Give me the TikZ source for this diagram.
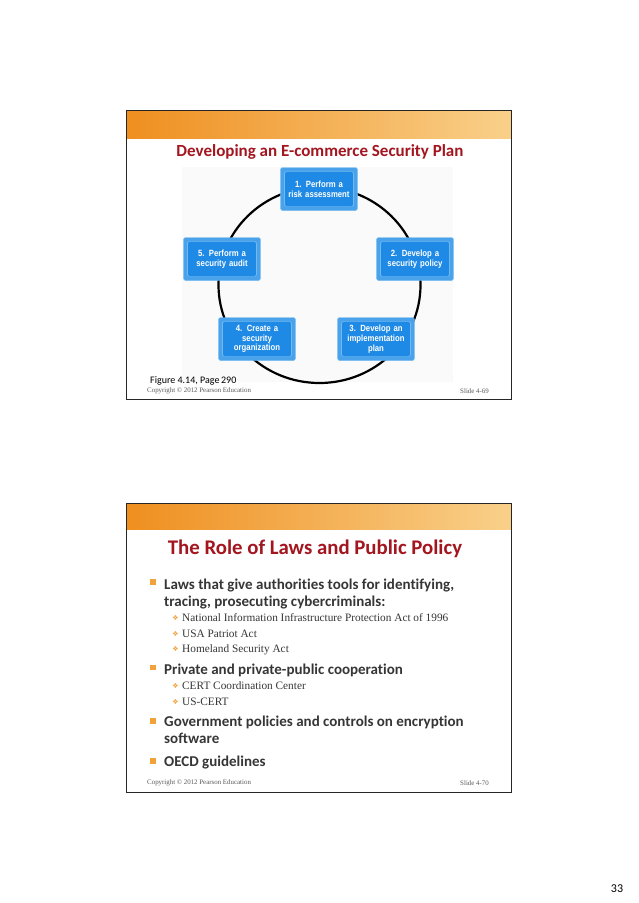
\documentclass[tikz,border=0pt]{standalone}
\usepackage{fontspec}
\setmainfont{Carlito}[Ligatures={NoCommon}]
\newfontfamily\boxfont{Liberation Sans}[FakeStretch=0.86]
\newfontfamily\notefont{Liberation Serif}
\newfontfamily\symfont{DejaVu Sans}
\usetikzlibrary{positioning}
\definecolor{ttlred}{HTML}{A3151F}
\definecolor{bandl}{HTML}{EF8F1F}
\definecolor{bandr}{HTML}{F9D08A}
\definecolor{bulor}{HTML}{F2A23A}
\definecolor{stepout}{HTML}{4AA2EA}
\definecolor{stepin}{HTML}{1F8AE5}
\definecolor{stepedge}{HTML}{8FCBF6}
\definecolor{txtgray}{HTML}{363636}
\tikzset{
  slide/.style={draw=black!85, line width=0.9pt},
  band/.style={left color=bandl, right color=bandr},
  ttl/.style={text=ttlred, inner sep=0pt, anchor=base, font=\bfseries\fontsize{17}{20}\selectfont},
  stepbox/.style={fill=stepout, draw=stepedge!60!stepout, rounded corners=1.5pt,
    minimum width=76pt, minimum height=43pt, text width=70pt, align=center,
    text=white, font=\boxfont\bfseries\fontsize{9}{9.7}\selectfont,
    path picture={\draw[draw=stepedge, fill=stepin, rounded corners=1.5pt]
      ([xshift=4pt,yshift=-4pt]path picture bounding box.north west) rectangle
      ([xshift=-4pt,yshift=4pt]path picture bounding box.south east);}},
  fignote/.style={inner sep=0pt, anchor=base west, text=black, font=\fontsize{10}{12}\selectfont},
  copy/.style={inner sep=0pt, text=black!65, font=\notefont\fontsize{6.9}{8}\selectfont},
  mainitem/.style={inner sep=0pt, anchor=base west, text=txtgray, font=\bfseries\fontsize{15}{18}\selectfont},
  subitem/.style={inner sep=0pt, anchor=base west, text=txtgray, font=\notefont\fontsize{11.3}{13}\selectfont},
  sqbul/.style={fill=bulor, minimum size=5.5pt, inner sep=0pt},
  dmbul/.style={inner sep=0pt, text=bulor, font=\symfont\fontsize{7}{8}\selectfont},
}
\begin{document}
\begin{tikzpicture}[x=1pt, y=-1pt]
  \useasboundingbox[fill=white] (0,0) rectangle (638,903);

  % slide 4-69
  \fill[white] (126,110) rectangle (511,399);
  \shade[band] (126,110) rectangle (511,138);
  \draw[slide] (126,110) rectangle (511,399);
  \node[ttl] (ttlA) at (320,156.5) {Developing an E-commerce Security Plan};
  \fill[black!2] (182,167) rectangle (453,382);
  \draw[line width=2.2pt] (319.5,285) ellipse[x radius=101pt, y radius=98pt];
  \node[stepbox] (s1) at (319,189) {1. Perform a\\risk assessment};
  \node[stepbox] (s2) at (415,259) {2. Develop a\\security policy};
  \node[stepbox] (s3) at (376,339) {3. Develop an\\implementation\\plan};
  \node[stepbox] (s4) at (257,339) {4. Create a\\security\\organization};
  \node[stepbox] (s5) at (222,259) {5. Perform a\\security audit};
  \node[fignote] (figA) at (150,383.5) {Figure 4.14, Page\,290};
  \node[copy, anchor=west] (cpA) at (147,391) {Copyright \textcopyright{} 2012 Pearson Education};
  \node[copy, anchor=east] (sdA) at (489,391) {Slide 4-69};

  % slide 4-70
  \fill[white] (126,503) rectangle (511,792);
  \shade[band] (126,503) rectangle (511,529);
  \draw[slide] (126,503) rectangle (511,792);
  \node[ttl, font=\bfseries\fontsize{20.8}{25}\selectfont] (ttlB) at (315,554) {The Role of Laws and Public Policy};

  \node[sqbul] (b1) at (153,582) {};
  \node[mainitem] (l1a) at (164,589) {Laws that give authorities tools for identifying,};
  \node[mainitem] (l1b) at (164,606.5) {tracing, prosecuting cybercriminals:};
  \node[dmbul] (d1) at (175.5,618) {❖};
  \node[subitem] (s1a) at (182,621.5) {National Information Infrastructure Protection Act of 1996};
  \node[dmbul] (d2) at (175.5,633.5) {❖};
  \node[subitem] (s1b) at (182,637) {USA Patriot Act};
  \node[dmbul] (d3) at (175.5,649) {❖};
  \node[subitem] (s1c) at (182,652.5) {Homeland Security Act};

  \node[sqbul] (b2) at (153,667.5) {};
  \node[mainitem] (l2a) at (164,674) {Private and private-public cooperation};
  \node[dmbul] (d4) at (175.5,686) {❖};
  \node[subitem] (s2a) at (182,689.5) {CERT Coordination Center};
  \node[dmbul] (d5) at (175.5,701.5) {❖};
  \node[subitem] (s2b) at (182,705) {US-CERT};

  \node[sqbul] (b3) at (153,721) {};
  \node[mainitem] (l3a) at (164,726) {Government policies and controls on encryption};
  \node[mainitem] (l3b) at (164,743.5) {software};

  \node[sqbul] (b4) at (153,761) {};
  \node[mainitem] (l4a) at (164,766) {OECD guidelines};

  \node[copy, anchor=west] (cpB) at (147,783) {Copyright \textcopyright{} 2012 Pearson Education};
  \node[copy, anchor=east] (sdB) at (489,783) {Slide 4-70};

  \node[inner sep=0pt, font=\fontsize{12}{14}\selectfont] (pg) at (617,889) {33};
\end{tikzpicture}
\end{document}
